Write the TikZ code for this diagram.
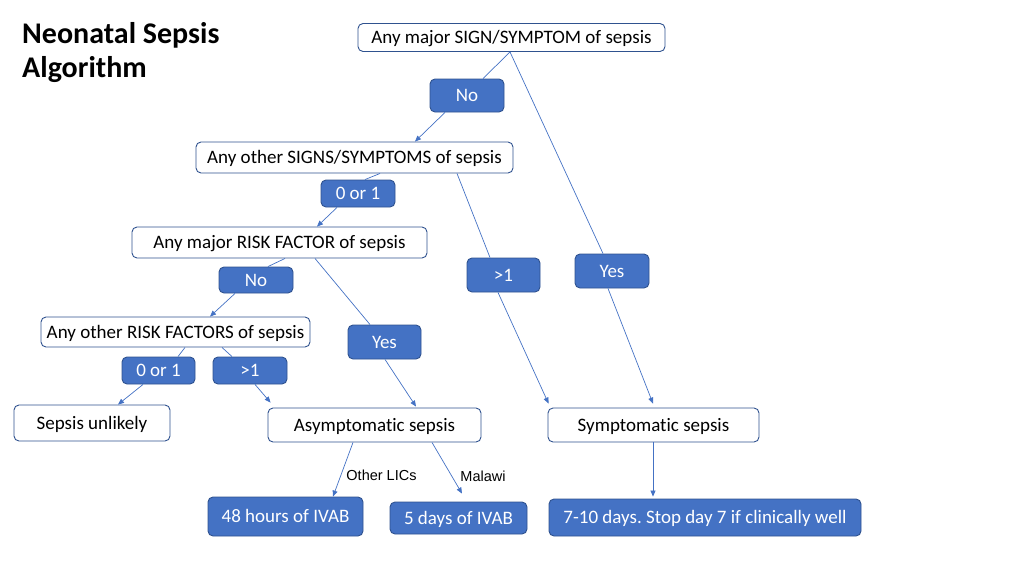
\documentclass[tikz,border=0pt]{standalone}
\usepackage{fontspec}
\setmainfont{Carlito}[Ligatures=NoCommon]
\newfontfamily\arialfont{Liberation Sans}
\usetikzlibrary{arrows.meta}
\definecolor{bluefill}{HTML}{4472C4}
\definecolor{blueedge}{HTML}{2F528F}
\frenchspacing
\begin{document}
\begin{tikzpicture}[x=1pt,y=-1pt,
  qbox/.style={draw=blueedge, fill=white, rounded corners=5pt, line width=0.9pt,
    font=\fontsize{19}{22}\selectfont, inner sep=0pt, anchor=center,
    text height=13.6pt, text depth=1pt},
  lbox/.style={draw=blueedge, fill=bluefill, text=white, rounded corners=5pt, line width=0.9pt,
    font=\fontsize{19}{22}\selectfont, inner sep=0pt, anchor=center,
    text height=13.6pt, text depth=1pt},
  conn/.style={draw=bluefill, line width=0.7pt},
  arr/.style={conn, -{Triangle[length=6pt,width=5pt]}},
  small/.style={font=\arialfont\fontsize{14.5}{17}\selectfont, inner sep=0pt}]
\useasboundingbox (0,0) rectangle (1024,576);

\node[anchor=north west, inner sep=0pt, align=left, font=\bfseries\fontsize{30}{34}\selectfont] (title) at (22,22.5) {Neonatal Sepsis\\Algorithm};

\node[qbox, minimum width=307pt, minimum height=28pt] (A) at (511.5,37.5) {Any major SIGN/SYMPTOM of sepsis};
\node[lbox, minimum width=74pt, minimum height=33pt] (No1) at (467,95.5) {No};
\node[qbox, minimum width=317pt, minimum height=31pt] (B) at (354.5,157.5) {Any other SIGNS/SYMPTOMS of sepsis};
\node[lbox, minimum width=74pt, minimum height=27pt] (Z1) at (358,193.5) {0 or 1};
\node[qbox, minimum width=295pt, minimum height=31pt] (C) at (279.5,242.5) {Any major RISK FACTOR of sepsis};
\node[lbox, minimum width=74pt, minimum height=26pt] (No2) at (256,280) {No};
\node[lbox, minimum width=73pt, minimum height=34pt] (G1) at (503.5,275) {>1};
\node[lbox, minimum width=74pt, minimum height=34pt] (Yes1) at (612,271) {Yes};
\node[qbox, minimum width=269pt, minimum height=30pt] (D) at (175.5,332) {Any other RISK FACTORS of sepsis};
\node[lbox, minimum width=73pt, minimum height=34pt] (Yes2) at (384.5,342) {Yes};
\node[lbox, minimum width=73pt, minimum height=27pt] (Z2) at (158.5,370.5) {0 or 1};
\node[lbox, minimum width=74pt, minimum height=27pt] (G2) at (250,370.5) {>1};
\node[qbox, minimum width=156pt, minimum height=36pt] (E) at (92,423) {Sepsis unlikely};
\node[qbox, minimum width=213pt, minimum height=34pt] (F) at (374.5,425) {Asymptomatic sepsis};
\node[qbox, minimum width=211pt, minimum height=34pt] (G) at (653.5,425) {Symptomatic sepsis};
\node[lbox, minimum width=155pt, minimum height=39pt] (H) at (285.5,516.5) {48 hours of IVAB};
\node[lbox, minimum width=137pt, minimum height=32pt] (I) at (458.5,518) {5 days of IVAB};
\node[lbox, minimum width=312pt, minimum height=37pt] (J) at (705,517.5) {7-10 days. Stop day 7 if clinically well};

\node[small] (lab1) at (381.5,475) {Other LICs};
\node[small] (lab2) at (483,476) {Malawi};

% connectors
\draw[conn] ([xshift=-1.5pt]A.south) -- ([xshift=16pt]No1.north);
\draw[arr]  ([xshift=-22pt]No1.south) -- ([xshift=60.5pt]B.north);
\draw[conn] ([xshift=-1.5pt]A.south) -- ([xshift=-9pt]Yes1.north);
\draw[arr]  ([xshift=-4pt]Yes1.south) -- ([xshift=-0.5pt,yshift=4pt]G.north);
\draw[conn] ([xshift=102.5pt]B.south) -- ([xshift=-13.5pt]G1.north);
\draw[arr]  ([xshift=-5.5pt]G1.south) -- ([xshift=1pt,yshift=4pt]G.north west);
\draw[conn] ([xshift=25.5pt]B.south) -- ([xshift=7pt]Z1.north);
\draw[arr]  ([xshift=-21pt]Z1.south) -- ([xshift=37.5pt]C.north);
\draw[conn] ([xshift=5.5pt]C.south) -- ([xshift=12pt]No2.north);
\draw[arr]  ([xshift=-21pt]No2.south) -- ([xshift=34.5pt]D.north);
\draw[conn] ([xshift=35.5pt]C.south) -- ([xshift=-14.5pt]Yes2.north);
\draw[arr]  ([xshift=0.5pt]Yes2.south) -- ([xshift=41.5pt,yshift=1pt]F.north);
\draw[conn] ([xshift=9.5pt]D.south) -- ([xshift=19.5pt]Z2.north);
\draw[arr]  ([xshift=-15.5pt]Z2.south) -- ([xshift=26pt]E.north);
\draw[conn] ([xshift=46.5pt]D.south) -- ([xshift=-18pt]G2.north);
\draw[arr]  ([xshift=5pt]G2.south) -- ([xshift=3pt,yshift=5pt]F.north west);
\draw[arr]  ([xshift=-21.5pt]F.south) -- ([xshift=47.5pt]H.north);
\draw[arr]  ([xshift=57.5pt]F.south) -- ([xshift=3.5pt,yshift=8pt]I.north);
\draw[arr]  ([xshift=-0.5pt]G.south) -- ([xshift=-52pt,yshift=2pt]J.north);
\end{tikzpicture}
\end{document}
